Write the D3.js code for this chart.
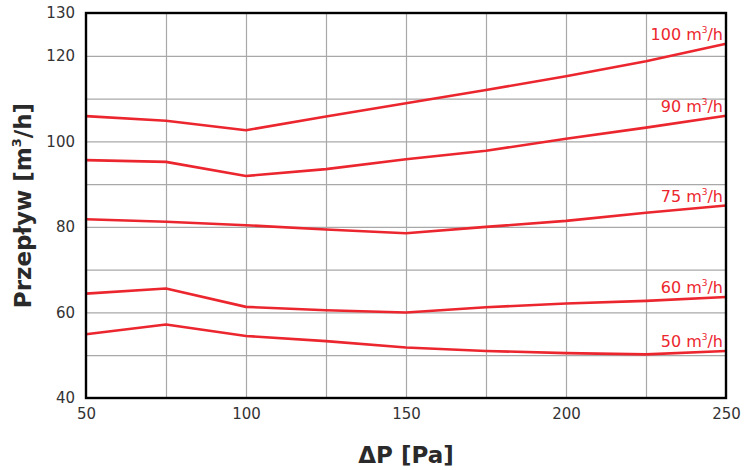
<!DOCTYPE html>
<html>
<head>
<meta charset="utf-8">
<script src="https://cdn.jsdelivr.net/npm/d3@7"></script>
<style>
  html, body { margin: 0; padding: 0; background: #fff; }
  svg { display: block; font-family: "DejaVu Sans", Verdana, sans-serif; }
</style>
</head>
<body>
<svg id="chart" width="744" height="470"></svg>
<script>
// Pressure drop [Pa] on the x axis
const pressure = [50, 75, 100, 125, 150, 175, 200, 225, 250];

// Measured flow [m3/h] for each nominal setting
const flow100 = [105.9, 104.8, 102.6, 105.8, 108.9, 112.0, 115.2, 118.7, 122.8];
const flow90  = [95.6, 95.2, 91.9, 93.5, 95.8, 97.8, 100.6, 103.2, 106.0];
const flow75  = [81.8, 81.2, 80.4, 79.4, 78.5, 80.0, 81.4, 83.3, 85.0];
const flow60  = [64.4, 65.6, 61.3, 60.5, 60.0, 61.2, 62.1, 62.7, 63.6];
const flow50  = [54.9, 57.2, 54.5, 53.3, 51.8, 51.0, 50.5, 50.2, 51.0];

const seriesNames = ["100", "90", "75", "60", "50"];
const seriesValues = [flow100, flow90, flow75, flow60, flow50];

// Axis ticks
const xTickLabels = [50, 100, 150, 200, 250];
const xGrid = [75, 100, 125, 150, 175, 200, 225];
const yTickLabels = [40, 60, 80, 100, 120, 130];
const yGrid = [50, 60, 70, 80, 90, 100, 110, 120];

const svg = d3.select("#chart");
const margin = { left: 86, right: 18, top: 13, bottom: 72 };
const W = 744, H = 470;
const x0 = margin.left, x1 = W - margin.right;
const y0 = H - margin.bottom, y1 = margin.top;

const x = d3.scaleLinear().domain([50, 250]).range([x0, x1]);
const y = d3.scaleLinear().domain([40, 130]).range([y0, y1]);

const red = "#ec262e";
const grid = "#a8a8a8";

// Grid lines
svg.append("g")
  .attr("transform", `translate(0,${y0})`)
  .call(d3.axisBottom(x).tickValues(xGrid).tickSize(-(y0 - y1)).tickFormat(""))
  .call(g => g.select(".domain").remove())
  .call(g => g.selectAll("line").attr("stroke", grid).attr("stroke-width", 1.2));

svg.append("g")
  .attr("transform", `translate(${x0},0)`)
  .call(d3.axisLeft(y).tickValues(yGrid).tickSize(-(x1 - x0)).tickFormat(""))
  .call(g => g.select(".domain").remove())
  .call(g => g.selectAll("line").attr("stroke", grid).attr("stroke-width", 1.2));

// Tick labels
const xAxis = svg.append("g")
  .attr("transform", `translate(0,${y0})`)
  .call(d3.axisBottom(x).tickValues(xTickLabels).tickSize(0).tickPadding(10).tickFormat(d3.format("d")));
xAxis.select(".domain").remove();
xAxis.selectAll("text").attr("font-size", 15).attr("fill", "#333")
  .attr("font-family", "DejaVu Sans, Verdana, sans-serif");

const yAxis = svg.append("g")
  .attr("transform", `translate(${x0},0)`)
  .call(d3.axisLeft(y).tickValues(yTickLabels).tickSize(0).tickPadding(11).tickFormat(d3.format("d")));
yAxis.select(".domain").remove();
yAxis.selectAll("text").attr("font-size", 15).attr("fill", "#333")
  .attr("font-family", "DejaVu Sans, Verdana, sans-serif");

// Curves
const line = d3.line()
  .x((d, i) => x(pressure[i]))
  .y(d => y(d));

svg.append("g").selectAll("path")
  .data(seriesValues)
  .join("path")
  .attr("d", line)
  .attr("fill", "none")
  .attr("stroke", red)
  .attr("stroke-width", 2.6)
  .attr("stroke-linejoin", "round");

// Series labels at the right end of each curve
const labels = svg.append("g")
  .attr("font-size", 16)
  .attr("fill", red)
  .attr("text-anchor", "end");

seriesNames.forEach((name, i) => {
  const vals = seriesValues[i];
  const t = labels.append("text")
    .attr("x", x1 - 3)
    .attr("y", y(vals[vals.length - 1]) - 4);
  t.append("tspan").text(name + " m");
  t.append("tspan").attr("font-size", 9).attr("dy", -7).text("3");
  t.append("tspan").attr("dy", 7).text("/h");
});

// Plot frame
svg.append("rect")
  .attr("x", x0).attr("y", y1)
  .attr("width", x1 - x0).attr("height", y0 - y1)
  .attr("fill", "none")
  .attr("stroke", "#000")
  .attr("stroke-width", 2.4);

// Axis titles
svg.append("text")
  .attr("x", (x0 + x1) / 2)
  .attr("y", 463)
  .attr("text-anchor", "middle")
  .attr("font-size", 23)
  .attr("font-weight", "bold")
  .attr("fill", "#2a2a2a")
  .text("ΔP [Pa]");

const yt = svg.append("text")
  .attr("transform", `translate(31,${(y0 + y1) / 2}) rotate(-90)`)
  .attr("text-anchor", "middle")
  .attr("font-size", 23)
  .attr("font-weight", "bold")
  .attr("fill", "#2a2a2a");
yt.append("tspan").text("Przepływ [m");
yt.append("tspan").attr("font-size", 13).attr("dy", -10).text("3");
yt.append("tspan").attr("dy", 10).text("/h]");
</script>
</body>
</html>
